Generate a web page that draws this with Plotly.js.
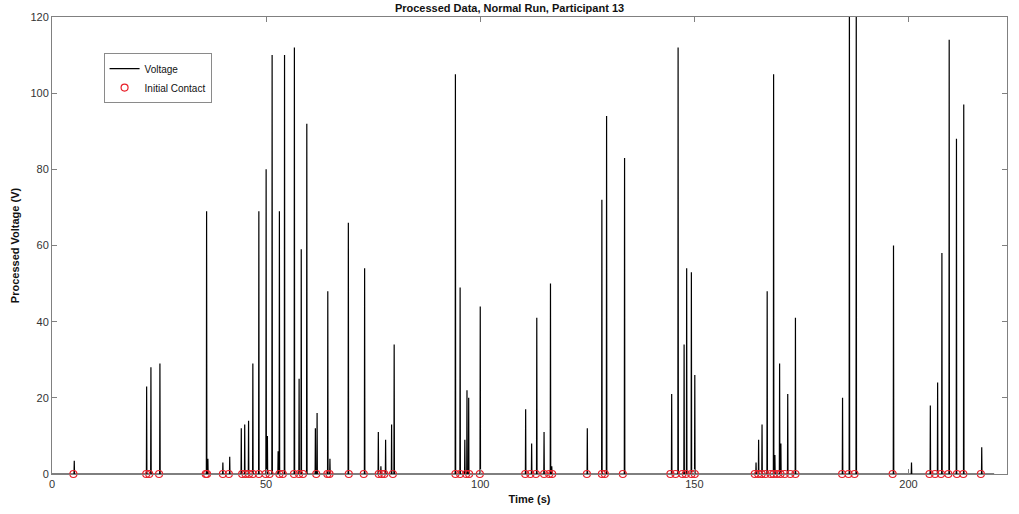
<!DOCTYPE html>
<html>
<head>
<meta charset="utf-8">
<script src="https://cdn.plot.ly/plotly-3.0.1.min.js"></script>
<style>html,body{margin:0;padding:0;background:#fff;}#chart{width:1019px;height:514px;}</style>
</head>
<body>
<div id="chart"></div>
<script>
// Voltage spikes: time (s) and peak value (V)
const spikeTimes = [5.2, 22.1, 23.1, 25.2, 36.1, 36.4, 39.9, 41.5, 44.2, 45.0, 45.9, 46.9, 48.3, 50.0, 50.3, 51.4, 52.8, 53.1, 54.3, 56.6, 57.7, 58.2, 59.5, 61.5, 61.9, 64.4, 64.9, 69.2, 73.0, 76.2, 76.8, 77.9, 79.3, 79.9, 94.2, 95.3, 96.4, 96.9, 97.3, 100.0, 110.6, 112.0, 113.2, 114.9, 116.4, 116.7, 125.0, 128.4, 129.5, 133.7, 144.7, 146.2, 147.6, 148.2, 149.3, 150.1, 164.4, 165.0, 165.8, 167.0, 168.5, 168.8, 169.9, 170.2, 171.8, 173.6, 184.6, 186.2, 187.8, 196.5, 200.7, 205.1, 206.8, 207.8, 209.5, 211.2, 212.9, 217.1];
const spikePeaks = [3.5, 23, 28, 29, 69, 4, 3, 4.5, 12, 13, 14, 29, 69, 80, 10, 110, 6, 69, 110, 112, 25, 59, 92, 12, 16, 48, 4, 66, 54, 11, 2, 9, 13, 34, 105, 49, 9, 22, 20, 44, 17, 8, 41, 11, 50, 2, 12, 72, 94, 83, 21, 112, 34, 54, 53, 26, 3, 9, 13, 48, 105, 5, 29, 8, 21, 41, 20, 130, 130, 60, 3, 18, 24, 58, 114, 88, 97, 7];
const runStart = 0;
const runEnd = 220;
// Initial contact times (s)
const contactTimes = [5.0, 22.0, 22.7, 25.0, 35.9, 36.2, 39.9, 41.3, 44.4, 45.2, 46.0, 46.9, 48.3, 49.9, 50.8, 53.1, 53.9, 56.5, 57.7, 58.6, 61.7, 64.3, 64.8, 69.3, 72.8, 76.3, 77.0, 77.6, 79.6, 94.2, 95.3, 96.7, 97.4, 99.9, 110.5, 111.7, 113.0, 114.9, 116.1, 116.8, 124.9, 128.4, 129.1, 133.3, 144.4, 145.6, 147.2, 148.0, 149.3, 150.1, 164.1, 164.9, 165.7, 166.6, 167.8, 168.5, 169.3, 170.1, 171.1, 172.4, 173.6, 184.5, 186.0, 187.4, 196.3, 204.9, 206.2, 207.6, 209.3, 211.3, 212.8, 216.9];
const contactValues = contactTimes.map(() => 0);

// Build the voltage trace: flat baseline with narrow spikes
const vx = [runStart], vy = [0];
const hw = 0.06;
spikeTimes.forEach((t, i) => {
  vx.push(t - hw, t, t + hw);
  vy.push(0, spikePeaks[i], 0);
});
vx.push(runEnd); vy.push(0);

const font = 'Liberation Sans, Arial, Helvetica, sans-serif';
const traces = [
  {x: vx, y: vy, type: 'scatter', mode: 'lines', name: 'Voltage',
   line: {color: '#000000', width: 1.2}},
  {x: contactTimes, y: contactValues, type: 'scatter', mode: 'markers', name: 'Initial Contact',
   marker: {symbol: 'circle-open', size: 7, color: '#e8202a', line: {width: 1.2, color: '#e8202a'}},
   cliponaxis: false}
];
const axisCommon = {
  showline: true, mirror: 'ticks', linecolor: '#808080', linewidth: 1,
  ticks: 'inside', ticklen: 5, tickcolor: '#808080', showgrid: false, zeroline: false,
  tickfont: {family: font, size: 11, color: '#333333'}
};
const layout = {
  width: 1019, height: 514,
  margin: {l: 52, r: 12, t: 17, b: 40},
  paper_bgcolor: '#ffffff', plot_bgcolor: '#ffffff',
  title: {text: '<b>Processed Data, Normal Run, Participant 13</b>', font: {family: font, size: 11, color: '#111'},
          x: 0.5, xanchor: 'center', y: 0.985, yanchor: 'middle'},
  xaxis: Object.assign({}, axisCommon, {range: [0, 223], tickvals: [0, 50, 100, 150, 200],
          title: {text: '<b>Time (s)</b>', font: {family: font, size: 11, color: '#111'}, standoff: 6}}),
  yaxis: Object.assign({}, axisCommon, {range: [0, 120], tickvals: [0, 20, 40, 60, 80, 100, 120],
          title: {text: '<b>Processed Voltage (V)</b>', font: {family: font, size: 11, color: '#111'}, standoff: 8}}),
  showlegend: true,
  legend: {x: 0.054, y: 0.921, xanchor: 'left', yanchor: 'top', bgcolor: '#ffffff',
           bordercolor: '#8a8a8a', borderwidth: 1, font: {family: font, size: 10, color: '#111'},
           tracegroupgap: 0, itemwidth: 30}
};
Plotly.newPlot('chart', traces, layout, {displayModeBar: false, staticPlot: true});
</script>
</body>
</html>
